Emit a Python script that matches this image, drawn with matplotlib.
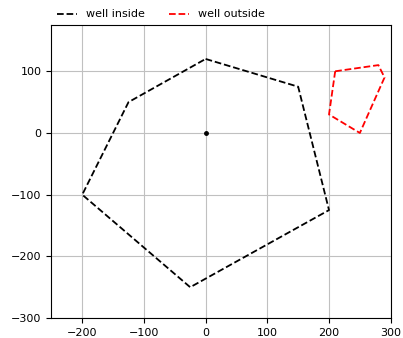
import numpy as np
import matplotlib
matplotlib.use("Agg")
import matplotlib.pyplot as plt

# polygon of the "inside" well boundary
inside_x = [0, 150, 200, -25, -200, -125, 0]
inside_y = [120, 75, -125, -250, -100, 50, 120]

# polygon of the "outside" well boundary
outside_x = [210, 280, 290, 250, 200, 210]
outside_y = [100, 110, 90, 0, 30, 100]

# well location
well_x = [0]
well_y = [0]

plt.rcParams['font.size'] = 8

fig = plt.figure(figsize=(4.03, 3.38), dpi=100)
ax = fig.add_axes([0.127, 0.059, 0.843, 0.867])

ax.plot(inside_x, inside_y, 'k--', lw=1.3, label='well inside')
ax.plot(outside_x, outside_y, 'r--', lw=1.3, label='well outside')
ax.plot(well_x, well_y, 'k.', ms=5)

ax.set_xlim(-250, 300)
ax.set_ylim(-300, 175)
ax.set_aspect('equal')
ax.set_xticks(np.arange(-200, 301, 100))
ax.set_yticks(np.arange(-300, 101, 100))
ax.grid(True, color='#c0c0c0', lw=0.8)
ax.set_axisbelow(True)

ax.legend(loc='lower left', bbox_to_anchor=(0.0, 1.0), ncol=2, frameon=False,
          borderaxespad=0.1, handlelength=1.8, columnspacing=2.2, fontsize=8)

fig.savefig('out.png', dpi=100)
